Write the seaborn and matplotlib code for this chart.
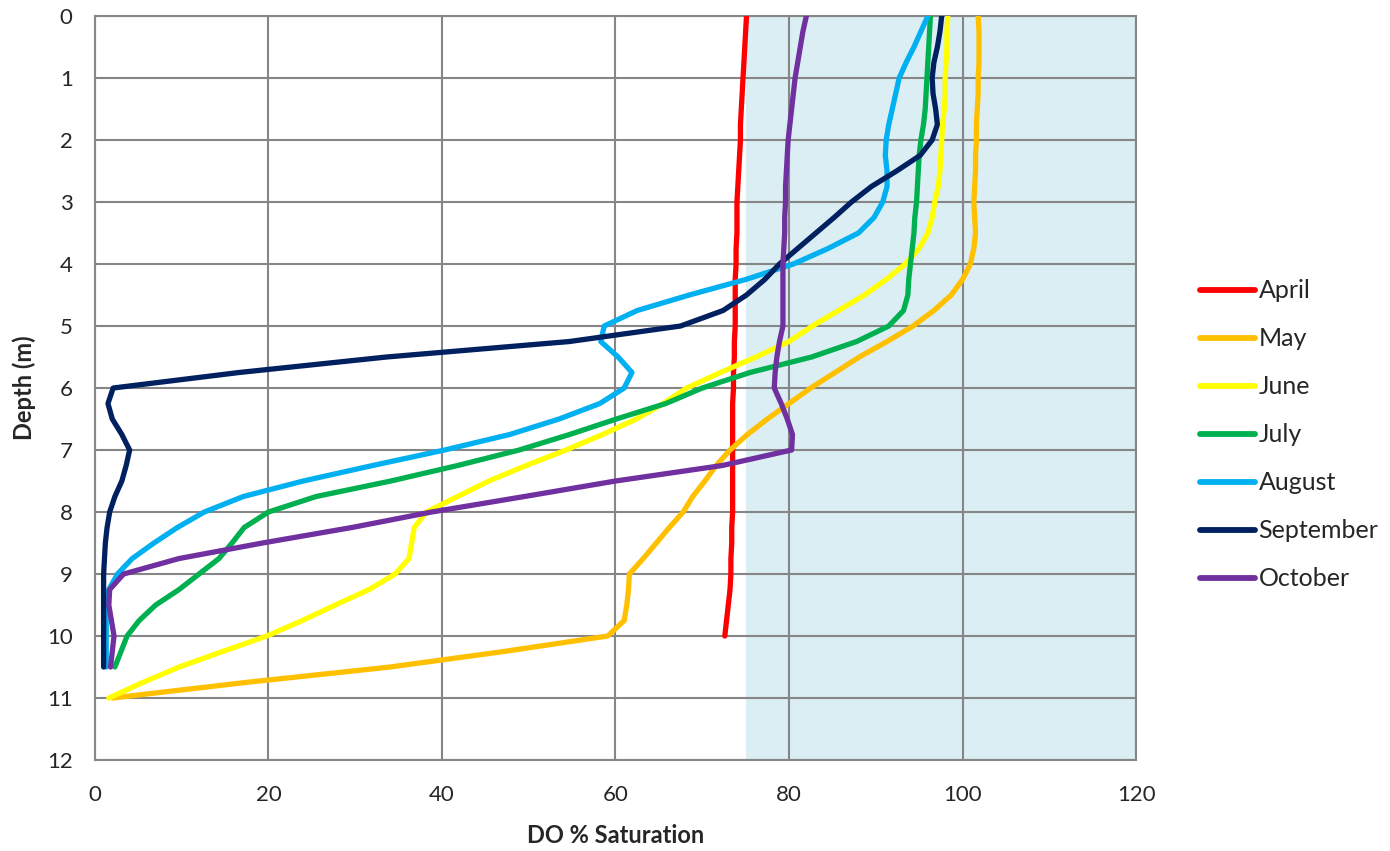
import numpy as np
import pandas as pd
import matplotlib
matplotlib.use("Agg")
import matplotlib.pyplot as plt
import seaborn as sns

# depth (m) of each reading, every quarter metre
depth = [0, 0.25, 0.5, 0.75, 1, 1.25, 1.5, 1.75, 2, 2.25, 2.5, 2.75,
         3, 3.25, 3.5, 3.75, 4, 4.25, 4.5, 4.75, 5, 5.25, 5.5, 5.75,
         6, 6.25, 6.5, 6.75, 7, 7.25, 7.5, 7.75, 8, 8.25, 8.5, 8.75,
         9, 9.25, 9.5, 9.75, 10, 10.25, 10.5, 10.75, 11]

nan = np.nan
# DO % saturation for each month (one row per metre)
april = [75.1, 75.0, 74.9, 74.8,
         74.7, 74.6, 74.5, 74.4,
         74.4, 74.3, 74.2, 74.1,
         74.0, 74.0, 74.0, 73.9,
         73.9, 73.8, 73.8, 73.8,
         73.8, 73.7, 73.7, 73.6,
         73.6, 73.5, 73.5, 73.5,
         73.5, 73.5, 73.5, 73.5,
         73.5, 73.4, 73.4, 73.3,
         73.3, 73.2, 73.0, 72.8,
         72.6, nan, nan, nan,
         nan]
may = [101.8, 101.9, 101.9, 101.9,
       101.8, 101.8, 101.7, 101.6,
       101.6, 101.5, 101.5, 101.4,
       101.3, 101.4, 101.5, 101.3,
       100.9, 100.0, 98.7, 96.7,
       94.3, 91.3, 88.1, 85.3,
       82.5, 80.0, 77.5, 75.2,
       73.2, 71.6, 70.3, 68.9,
       67.8, 66.2, 64.7, 63.2,
       61.6, 61.5, 61.3, 61.0,
       59.1, 47.1, 34.0, 17.3,
       2.0]
june = [98.3, 98.2, 98.2, 98.1,
        98.0, 98.0, 97.9, 97.7,
        97.6, 97.5, 97.4, 97.2,
        96.8, 96.5, 96.0, 95.0,
        93.4, 91.2, 88.7, 85.7,
        82.7, 80.0, 76.2, 72.1,
        68.2, 65.5, 62.4, 58.5,
        54.3, 49.7, 45.4, 41.8,
        38.2, 36.8, 36.5, 36.2,
        34.6, 31.6, 27.7, 23.9,
        19.8, 14.7, 9.7, 5.5,
        1.6]
july = [96.3, 96.2, 96.1, 96.0,
        95.9, 95.8, 95.7, 95.5,
        95.2, 95.0, 94.9, 94.8,
        94.7, 94.5, 94.4, 94.2,
        94.0, 93.8, 93.7, 93.2,
        91.5, 87.8, 82.6, 75.5,
        70.0, 65.8, 60.1, 54.7,
        48.9, 41.8, 34.1, 25.5,
        20.0, 17.2, 15.8, 14.3,
        12.0, 9.7, 7.0, 5.1,
        3.7, 3.0, 2.3, nan,
        nan]
august = [96.0, 95.2, 94.4, 93.5,
          92.7, 92.3, 91.9, 91.5,
          91.2, 91.1, 91.3, 91.3,
          90.8, 89.8, 88.0, 84.5,
          80.5, 75.0, 68.5, 62.5,
          58.7, 58.3, 60.3, 61.9,
          61.0, 58.2, 53.5, 47.8,
          40.3, 32.0, 24.0, 17.1,
          12.6, 9.5, 6.8, 4.3,
          2.6, 1.6, 1.3, 1.3,
          1.3, 1.3, 1.3, nan,
          nan]
september = [97.6, 97.4, 97.1, 96.7,
             96.5, 96.6, 96.9, 97.1,
             96.5, 95.1, 92.4, 89.5,
             87.2, 85.2, 83.1, 81.0,
             78.9, 77.2, 75.1, 72.4,
             67.5, 54.7, 33.6, 16.6,
             2.1, 1.5, 2.0, 3.1,
             4.0, 3.6, 3.1, 2.3,
             1.7, 1.4, 1.2, 1.1,
             1.0, 1.0, 1.0, 1.0,
             1.0, 1.0, 1.0, nan,
             nan]
october = [82.0, 81.6, 81.3, 81.0,
           80.7, 80.5, 80.3, 80.1,
           79.9, 79.8, 79.7, 79.6,
           79.6, 79.5, 79.5, 79.4,
           79.3, 79.3, 79.3, 79.3,
           79.3, 78.9, 78.6, 78.4,
           78.3, 79.1, 79.8, 80.4,
           80.3, 72.3, 60.0, 49.5,
           38.8, 29.6, 19.3, 9.7,
           3.3, 1.7, 1.6, 1.9,
           2.2, 2.0, 1.8, nan,
           nan]

months = ['April', 'May', 'June', 'July', 'August', 'September', 'October']
colours = ['#FF0000', '#FFC000', '#FFFF00', '#00B050', '#00B0F0', '#002060', '#7030A0']

# long format table for seaborn
df = pd.DataFrame({'Depth': depth, 'April': april, 'May': may, 'June': june,
                   'July': july, 'August': august, 'September': september,
                   'October': october})
df = df.melt(id_vars='Depth', var_name='Month', value_name='DO').dropna()

sns.set_style("white")
plt.rcParams['font.family'] = ['Lato', 'DejaVu Sans']

fig = plt.figure(figsize=(13.9, 8.51), dpi=100)
ax = fig.add_axes([0.0683, 0.1069, 0.749, 0.8743])

# shaded band from 75 % upwards
ax.axvspan(75, 120, color='#DAEEF3', zorder=0, lw=0)

sns.lineplot(data=df, x='DO', y='Depth', hue='Month', hue_order=months,
             palette=colours, sort=False, estimator=None, linewidth=3.8,
             ax=ax, zorder=3)
for ln in ax.lines:
    ln.set_solid_joinstyle('round')
    ln.set_solid_capstyle('round')

ax.set_xlim(0, 120)
ax.set_ylim(12, 0)
ax.set_xticks(range(0, 121, 20))
ax.set_yticks(range(0, 13))
ax.grid(True, color='#868686', linewidth=1.5, zorder=1)
ax.set_axisbelow(True)
for sp in ax.spines.values():
    sp.set_color('#868686')
    sp.set_linewidth(1.5)
ax.tick_params(axis='both', direction='out', length=6, width=1.5,
               color='#868686', labelsize=16)
ax.tick_params(axis='x', pad=12)
ax.tick_params(axis='y', pad=10)

ax.set_xlabel('DO % Saturation', fontsize=17, fontweight='bold', labelpad=14)
ax.set_ylabel('Depth (m)', fontsize=17, fontweight='bold', labelpad=8)

# legend on the right
handles, labels = ax.get_legend_handles_labels()
for h in handles:
    h.set_linewidth(4.2)
ax.legend(handles, labels, loc='center left', bbox_to_anchor=(0.847, 0.489),
          bbox_transform=fig.transFigure, frameon=False, fontsize=18,
          handlelength=2.2, handletextpad=0.15, labelspacing=1.0)

plt.savefig('out.png', dpi=100)
